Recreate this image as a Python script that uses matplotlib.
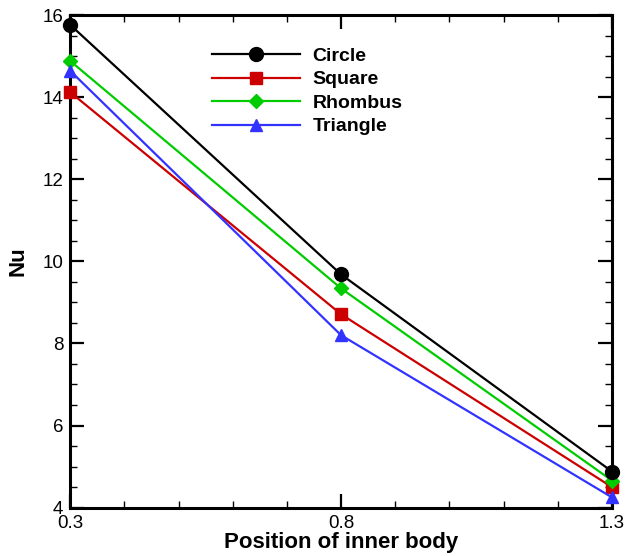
import matplotlib.pyplot as plt
from matplotlib.ticker import MultipleLocator

plt.rcParams['font.family'] = ['Liberation Sans', 'DejaVu Sans']

positions = [0.3, 0.8, 1.3]
circle = [15.76, 9.68, 4.88]
square = [14.12, 8.71, 4.5]
rhombus = [14.88, 9.34, 4.66]
triangle = [14.64, 8.2, 4.25]

fig = plt.figure(figsize=(6.27, 5.56), dpi=100)
ax = fig.add_axes([0.112, 0.087, 0.864, 0.886])

ax.plot(positions, circle, color='black', marker='o', markersize=10, lw=1.6, label='Circle', clip_on=False, zorder=5)
ax.plot(positions, square, color='#cc0000', marker='s', markersize=8, lw=1.6, label='Square', clip_on=False, zorder=4)
ax.plot(positions, rhombus, color='#00cc00', marker='D', markersize=7.5, lw=1.6, label='Rhombus', clip_on=False, zorder=4)
ax.plot(positions, triangle, color='#3333ff', marker='^', markersize=8, lw=1.6, label='Triangle', clip_on=False, zorder=4)

ax.set_xlim(0.3, 1.3)
ax.set_ylim(4, 16)
ax.set_xticks(positions)
ax.set_xticklabels(['0.3', '0.8', '1.3'])
ax.xaxis.set_minor_locator(MultipleLocator(0.1))
ax.yaxis.set_major_locator(MultipleLocator(2))
ax.yaxis.set_minor_locator(MultipleLocator(0.5))

ax.tick_params(which='both', direction='in', top=True, right=True, labelsize=13.5)
ax.tick_params(axis='x', pad=5)
ax.tick_params(axis='y', pad=5)
ax.tick_params(which='major', length=10, width=1.6)
ax.tick_params(which='minor', length=5, width=1)
for s in ax.spines.values():
    s.set_linewidth(2.2)

ax.set_xlabel('Position of inner body', fontsize=16, fontweight='bold', labelpad=0)
ax.set_ylabel('Nu', fontsize=16, fontweight='bold', labelpad=10)

ax.legend(loc='upper left', bbox_to_anchor=(0.244, 0.954), frameon=False, borderpad=0,
          handlelength=4.5, handletextpad=0.65, labelspacing=0.3,
          prop={'weight': 'bold', 'size': 14})

fig.savefig('out.png', dpi=100)
